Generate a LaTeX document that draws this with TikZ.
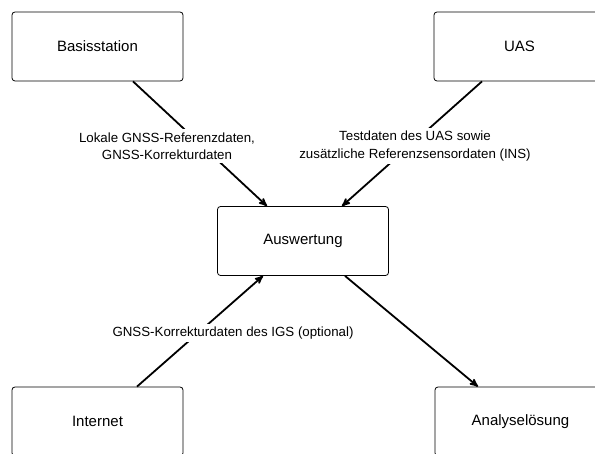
\documentclass[tikz,border=0pt]{standalone}
\usepackage{fontspec}
\setmainfont{Liberation Sans}
\usetikzlibrary{calc}
\usetikzlibrary{arrows}
\usepackage{xcolor}

\begin{document}
\begin{tikzpicture}[x=1pt,y=-1pt,
  box/.style={draw, line width=.8pt, rounded corners=3pt, minimum width=171pt, minimum height=69pt, inner sep=0pt, font=\fontsize{15}{18}\selectfont},
  lbl/.style={fill=white, inner sep=3pt, align=center, font=\fontsize{13.3}{17.5}\selectfont},
  flow/.style={black, line width=1.8pt, ->, >=stealth'}]
\useasboundingbox (0,0) rectangle (595,454);
\clip (0,0) rectangle (595,454);
\node[box] (basis) at (97.5,46.5) {Basisstation};
\node[box] (uas) at (519.5,46.5) {UAS};
\node[box] (ausw) at (303,241) {Auswertung};
\node[box] (inet) at (97.5,421.5) {Internet};
\node[box] (analyse) at (520.5,421.5) {Analysel\"osung};
\draw[flow] ([xshift=35.5pt]basis.south) -- ([xshift=-36pt]ausw.north);
\draw[flow] ([xshift=-37.5pt]uas.south) -- ([xshift=39pt]ausw.north);
\draw[flow] ([xshift=39.5pt]inet.north) -- ([xshift=-40pt]ausw.south);
\draw[flow] ([xshift=42pt]ausw.south) -- ([xshift=-42.5pt]analyse.north);
\node[lbl] (lbasis) at (167,146) {Lokale GNSS-Referenzdaten,\\GNSS-Korrekturdaten};
\node[lbl] (luas) at (415,146) {Testdaten des UAS sowie\\zus\"atzliche Referenzsensordaten (INS)};
\node[lbl] (linet) at (233,333) {GNSS-Korrekturdaten des IGS (optional)};
\end{tikzpicture}
\end{document}
